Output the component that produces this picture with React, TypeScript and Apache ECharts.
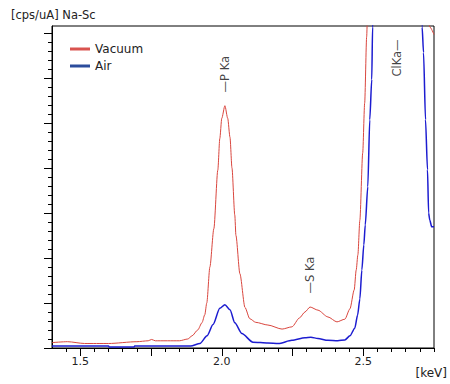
import React, { useEffect, useRef } from "react";
import * as echarts from "echarts";

// Vacuum spectrum (keV, cps/uA in axis-major units)
const vacuumKeV = [
  1.4, 1.455, 1.515, 1.6, 1.7, 1.74, 1.752, 1.765, 1.85, 1.88, 1.895, 1.915, 1.93, 1.94, 1.947,
  1.958, 1.972, 1.986, 1.993, 2.0, 2.011, 2.021, 2.029, 2.036, 2.046, 2.05, 2.064, 2.082, 2.099,
  2.12, 2.163, 2.213, 2.248, 2.275, 2.294, 2.312, 2.34, 2.375, 2.407, 2.435, 2.453, 2.468, 2.475,
  2.481, 2.488, 2.498, 2.505, 2.512, 2.515, 2.53, 2.6, 2.7, 2.725, 2.735, 2.75,
];
const vacuumCps = [
  0.12, 0.14, 0.1, 0.1, 0.14, 0.16, 0.19, 0.16, 0.16, 0.2, 0.27, 0.4, 0.56, 0.74, 1.0,
  1.8, 2.65, 3.95, 4.65, 5.1, 5.38, 5.1, 4.68, 4.0, 2.95, 2.5, 1.65, 0.9, 0.65,
  0.57, 0.51, 0.42, 0.47, 0.67, 0.8, 0.91, 0.84, 0.69, 0.58, 0.64, 0.87, 1.29, 1.73,
  2.07, 2.84, 4.33, 5.44, 6.91, 7.4, 9.5, 12, 10, 7.6, 7.13, 6.96,
];

// Air spectrum
const airKeV = [
  1.4, 1.6, 1.602, 1.69, 1.692, 1.89, 1.923, 1.948, 1.969, 1.993, 2.011, 2.029, 2.046, 2.071,
  2.11, 2.163, 2.2, 2.248, 2.294, 2.315, 2.34, 2.375, 2.41, 2.435,
  2.453, 2.47, 2.48, 2.488, 2.495, 2.502, 2.507, 2.516, 2.523, 2.53, 2.533, 2.537, 2.56, 2.65,
  2.7, 2.708, 2.713, 2.72, 2.727, 2.731, 2.735, 2.742, 2.75,
];
const airCps = [
  0.044, 0.044, 0.022, 0.022, 0.044, 0.044, 0.1, 0.27, 0.52, 0.88, 0.96, 0.85, 0.56, 0.32,
  0.13, 0.11, 0.1, 0.17, 0.23, 0.24, 0.21, 0.17, 0.16, 0.18,
  0.27, 0.44, 0.73, 1.09, 1.73, 2.29, 2.73, 3.58, 5.07, 5.96, 7.13, 7.5, 9, 10,
  9, 7.13, 6.56, 5.07, 3.96, 3.0, 2.84, 2.69, 2.69,
];

// Peak annotations
const peakLabels = ["\u2014P Ka", "\u2014S Ka", "ClKa\u2014"];
const peakKeV = [2.011, 2.311, 2.619];
const peakLabelY = [6.08, 1.62, 6.44];

// Axis ticks
const xLabelValues = [1.5, 2.0, 2.5];
const xMajorTicks = [1.5, 1.75, 2.0, 2.25, 2.5];
const xMinorTicks = Array.from({ length: 27 }, (_, i) => +(1.45 + i * 0.05).toFixed(2));
const yMajorTicks = [0, 1, 2, 3, 4, 5, 6, 7];
const yMinorTicks = Array.from({ length: 36 }, (_, i) => +(i * 0.2).toFixed(1));

const FONT = "DejaVu Sans";

export default function App() {
  const ref = useRef<HTMLDivElement>(null);
  useEffect(() => {
    document.body.style.margin = "0";
    const chart = echarts.init(ref.current!, null, { renderer: "svg" });
    const yCommon = {
      type: "value",
      min: 0,
      max: 7.15,
      position: "left",
      axisLabel: { show: false },
      splitLine: { show: false },
    };
    const xCommon = {
      type: "value",
      min: 1.4,
      max: 2.75,
      position: "bottom",
      splitLine: { show: false },
    };
    chart.setOption({
      animation: false,
      backgroundColor: "#fff",
      textStyle: { fontFamily: FONT },
      title: {
        text: "[cps/uA] Na-Sc",
        left: 6,
        top: 4,
        textStyle: { fontFamily: FONT, fontSize: 11.5, fontWeight: "normal", color: "#222" },
      },
      graphic: [
        {
          type: "text",
          right: 3,
          top: 367,
          style: { text: "[keV]", fontFamily: FONT, fontSize: 12, fill: "#222" },
        },
      ],
      legend: {
        orient: "vertical",
        left: 65,
        top: 38,
        itemWidth: 20,
        itemHeight: 3,
        itemGap: 5,
        textStyle: { fontFamily: FONT, fontSize: 12, color: "#222" },
        data: [
          { name: "Vacuum", icon: "rect", itemStyle: { color: "#d9534f" } },
          { name: "Air", icon: "rect", itemStyle: { color: "#2b4c9c" } },
        ],
      },
      grid: {
        left: 52,
        right: 16,
        top: 26,
        bottom: 36,
        show: true,
        borderColor: "#000",
        borderWidth: 1,
        containLabel: false,
      },
      xAxis: [
        {
          ...xCommon,
          axisLine: { show: true, onZero: false, lineStyle: { color: "#000", width: 1 } },
          axisTick: { show: true, length: 8, customValues: xMajorTicks, lineStyle: { color: "#000" } },
          axisLabel: {
            show: true,
            customValues: xLabelValues,
            formatter: (v: number) => v.toFixed(1),
            margin: 8,
            fontFamily: FONT,
            fontSize: 11,
            color: "#222",
          },
        },
        {
          ...xCommon,
          axisLine: { show: false, onZero: false },
          axisTick: { show: true, length: 4, customValues: xMinorTicks, lineStyle: { color: "#000" } },
          axisLabel: { show: false },
        },
      ],
      yAxis: [
        {
          ...yCommon,
          axisLine: { show: true, onZero: false, lineStyle: { color: "#000", width: 1 } },
          axisTick: { show: true, length: 8, customValues: yMajorTicks, lineStyle: { color: "#000" } },
        },
        {
          ...yCommon,
          axisLine: { show: false, onZero: false },
          axisTick: { show: true, length: 4, customValues: yMinorTicks, lineStyle: { color: "#000" } },
        },
      ],
      series: [
        {
          name: "Vacuum",
          type: "line",
          xAxisIndex: 0,
          yAxisIndex: 0,
          showSymbol: false,
          clip: true,
          smooth: 0.25,
          smoothMonotone: "x",
          color: "#d9463e",
          lineStyle: { width: 1, color: "#d9463e" },
          data: vacuumKeV.map((e, i) => [e, vacuumCps[i]]),
        },
        {
          name: "Air",
          type: "line",
          xAxisIndex: 0,
          yAxisIndex: 0,
          showSymbol: false,
          clip: true,
          smooth: 0.25,
          smoothMonotone: "x",
          color: "#1c1cd0",
          lineStyle: { width: 1.5, color: "#1c1cd0" },
          data: airKeV.map((e, i) => [e, airCps[i]]),
        },
        {
          name: "peaks",
          type: "scatter",
          xAxisIndex: 0,
          yAxisIndex: 0,
          symbolSize: 0,
          silent: true,
          label: {
            show: true,
            position: "inside",
            rotate: 90,
            align: "center",
            verticalAlign: "middle",
            fontFamily: FONT,
            fontSize: 11.5,
            color: "#111",
            formatter: (p: any) => peakLabels[p.dataIndex],
          },
          data: peakKeV.map((e, i) => [e, peakLabelY[i]]),
        },
      ],
    });
    return () => chart.dispose();
  }, []);
  return <div ref={ref} style={{ width: 450, height: 384 }} />;
}
